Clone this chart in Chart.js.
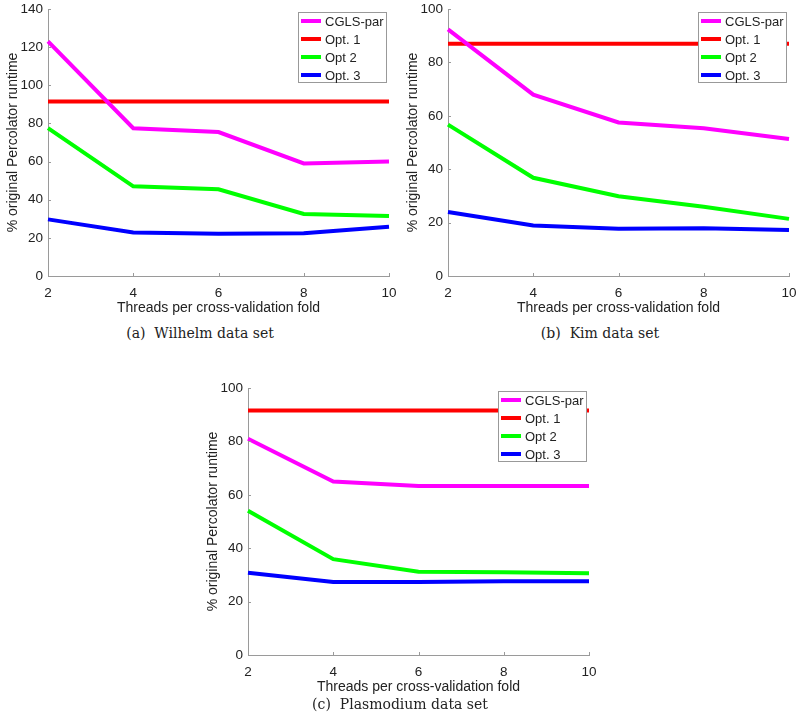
<!DOCTYPE html>
<html>
<head>
<meta charset="utf-8">
<script src="https://cdn.jsdelivr.net/npm/chart.js@4.4.1/dist/chart.umd.min.js"></script>
<style>
  body { margin: 0; background: #fff; width: 800px; height: 726px; position: relative; overflow: hidden; }
  canvas { position: absolute; }
  .caption { position: absolute; width: 400px; height: 16px; line-height: 16px; text-align: center;
             font-family: "DejaVu Serif", serif; font-size: 14px; color: #222; }
</style>
</head>
<body>
<canvas id="chartA" width="400" height="320" style="left:0;top:0"></canvas>
<canvas id="chartB" width="400" height="320" style="left:400px;top:0"></canvas>
<canvas id="chartC" width="400" height="320" style="left:200px;top:379px"></canvas>
<div class="caption" style="left:0;top:325px">(a)&nbsp; Wilhelm data set</div>
<div class="caption" style="left:400px;top:325px">(b)&nbsp; Kim data set</div>
<div class="caption" style="left:200px;top:696px">(c)&nbsp; Plasmodium data set</div>
<script>
const threads = ["2", "4", "6", "8", "10"];
const seriesNames = ["CGLS-par", "Opt. 1", "Opt 2", "Opt. 3"];
const seriesColors = ["#ff00ff", "#ff0000", "#00ff00", "#0000ff"];

// (a) Wilhelm
const wilhelmCgls = [123, 77.5, 75.5, 59, 60];
const wilhelmOpt1 = [91.5, 91.5, 91.5, 91.5, 91.5];
const wilhelmOpt2 = [77.5, 47, 45.5, 32.5, 31.5];
const wilhelmOpt3 = [29.7, 22.8, 22.2, 22.4, 25.8];

// (b) Kim
const kimCgls = [92.4, 67.9, 57.5, 55.3, 51.3];
const kimOpt1 = [87, 87, 87, 87, 87];
const kimOpt2 = [56.7, 36.8, 29.9, 25.9, 21.4];
const kimOpt3 = [24, 18.9, 17.7, 17.9, 17.2];

// (c) Plasmodium
const plasCgls = [81, 65, 63.3, 63.3, 63.3];
const plasOpt1 = [91.6, 91.6, 91.6, 91.6, 91.6];
const plasOpt2 = [54, 35.9, 31.2, 31, 30.6];
const plasOpt3 = [30.8, 27.3, 27.3, 27.6, 27.6];

const axisColor = "#9a9a9a";
const textColor = "#222";

// matlab-style legend box inside the plot, top right
const boxLegend = {
  id: "boxLegend",
  afterDraw(chart) {
    const { ctx, chartArea } = chart;
    const w = 88, h = 70;
    const left = chartArea.right - 3 - w, top = chartArea.top + 3;
    ctx.save();
    ctx.fillStyle = "#fff";
    ctx.fillRect(left, top, w, h);
    ctx.strokeStyle = "#999";
    ctx.lineWidth = 1;
    ctx.strokeRect(left + 0.5, top + 0.5, w, h);
    ctx.font = "13px 'Liberation Sans', Arial, sans-serif";
    ctx.textBaseline = "middle";
    chart.data.datasets.forEach((ds, i) => {
      const y = top + 9 + i * 18;
      ctx.strokeStyle = ds.borderColor;
      ctx.lineWidth = 4;
      ctx.beginPath();
      ctx.moveTo(left + 3, y);
      ctx.lineTo(left + 23, y);
      ctx.stroke();
      ctx.fillStyle = textColor;
      ctx.fillText(ds.label, left + 27, y + 1);
    });
    ctx.restore();
  }
};

// small tick marks pointing into the plot
const innerTicks = {
  id: "innerTicks",
  afterDraw(chart) {
    const { ctx, chartArea, scales } = chart;
    ctx.save();
    ctx.strokeStyle = axisColor;
    ctx.lineWidth = 1;
    ctx.beginPath();
    scales.x.ticks.forEach((t, i) => {
      const px = Math.round(scales.x.getPixelForTick(i)) + 0.5;
      ctx.moveTo(px, chartArea.bottom);
      ctx.lineTo(px, chartArea.bottom - 3);
    });
    scales.y.ticks.forEach(t => {
      const py = Math.round(scales.y.getPixelForValue(t.value)) + 0.5;
      ctx.moveTo(chartArea.left, py);
      ctx.lineTo(chartArea.left + 3, py);
    });
    ctx.stroke();
    ctx.restore();
  }
};

function makeChart(id, values, yMax) {
  const datasets = values.map((v, i) => ({
    label: seriesNames[i],
    data: v,
    borderColor: seriesColors[i],
    backgroundColor: seriesColors[i],
    borderWidth: 4,
    pointRadius: 0,
    tension: 0,
    fill: false
  }));
  return new Chart(document.getElementById(id), {
    type: "line",
    data: { labels: threads, datasets },
    options: {
      responsive: false,
      animation: false,
      devicePixelRatio: 1,
      layout: { padding: { left: 0, top: 9, right: 11, bottom: 0 } },
      plugins: { legend: { display: false }, tooltip: { enabled: false } },
      scales: {
        x: {
          grid: { display: false, drawTicks: false },
          border: { display: true, color: axisColor, width: 1 },
          ticks: { color: textColor, font: { family: "'Liberation Sans', Arial", size: 13.5 }, padding: 9, maxRotation: 0 },
          title: { display: true, text: "Threads per cross-validation fold", color: textColor,
                   font: { family: "'Liberation Sans', Arial", size: 14 }, padding: { top: 0, bottom: 3 } },
          afterFit: s => { s.height = 44; s.paddingLeft = 0; s.paddingRight = 0; }
        },
        y: {
          min: 0, max: yMax,
          grid: { display: false, drawTicks: false },
          border: { display: true, color: axisColor, width: 1 },
          ticks: { stepSize: 20, color: textColor, font: { family: "'Liberation Sans', Arial", size: 13.5 }, padding: 5 },
          title: { display: true, text: "% original Percolator runtime", color: textColor,
                   font: { family: "'Liberation Sans', Arial", size: 14 }, padding: { top: 5, bottom: 0 } },
          afterFit: s => { s.width = 48; s.paddingTop = 0; s.paddingBottom = 0; }
        }
      }
    },
    plugins: [innerTicks, boxLegend]
  });
}

makeChart("chartA", [wilhelmCgls, wilhelmOpt1, wilhelmOpt2, wilhelmOpt3], 140);
makeChart("chartB", [kimCgls, kimOpt1, kimOpt2, kimOpt3], 100);
makeChart("chartC", [plasCgls, plasOpt1, plasOpt2, plasOpt3], 100);
</script>
</body>
</html>
